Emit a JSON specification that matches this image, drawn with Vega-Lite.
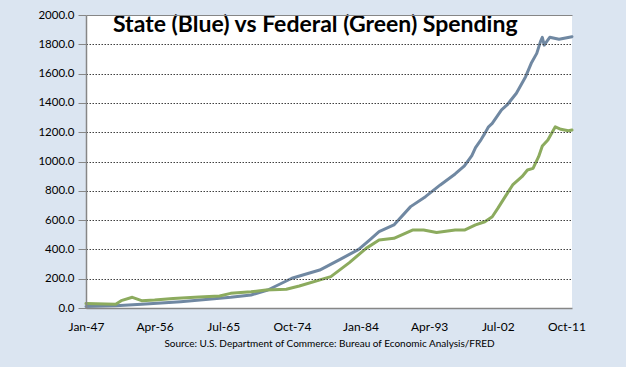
{
  "$schema": "https://vega.github.io/schema/vega-lite/v6.json",
  "width": 486,
  "height": 293,
  "autosize": "none",
  "padding": {"left": 86, "top": 15, "right": 54, "bottom": 59},
  "background": "#DBE5F1",
  "view": {"fill": "white", "stroke": null},
  "title": {
    "text": "State (Blue) vs Federal (Green) Spending",
    "frame": "group",
    "anchor": "start",
    "orient": "top",
    "dx": 27,
    "offset": -46,
    "baseline": "alphabetic",
    "font": "Lato",
    "fontSize": 23,
    "fontWeight": "bold",
    "color": "#000000"
  },
  "data": {
    "values": [
      {"d": "1947-01-01", "s": "State", "v": 10},
      {"d": "1951-01-01", "s": "State", "v": 16},
      {"d": "1954-07-01", "s": "State", "v": 25},
      {"d": "1959-10-01", "s": "State", "v": 43},
      {"d": "1965-01-01", "s": "State", "v": 66},
      {"d": "1966-07-01", "s": "State", "v": 73},
      {"d": "1969-04-01", "s": "State", "v": 89},
      {"d": "1971-07-01", "s": "State", "v": 123},
      {"d": "1974-10-01", "s": "State", "v": 203},
      {"d": "1978-07-01", "s": "State", "v": 259},
      {"d": "1981-04-01", "s": "State", "v": 332},
      {"d": "1983-10-01", "s": "State", "v": 400},
      {"d": "1985-04-01", "s": "State", "v": 465},
      {"d": "1986-07-01", "s": "State", "v": 521},
      {"d": "1988-07-01", "s": "State", "v": 567},
      {"d": "1990-10-01", "s": "State", "v": 692},
      {"d": "1992-10-01", "s": "State", "v": 760},
      {"d": "1994-10-01", "s": "State", "v": 840},
      {"d": "1996-10-01", "s": "State", "v": 915},
      {"d": "1998-01-01", "s": "State", "v": 970},
      {"d": "1999-01-01", "s": "State", "v": 1040},
      {"d": "1999-07-01", "s": "State", "v": 1095},
      {"d": "2000-04-01", "s": "State", "v": 1150},
      {"d": "2000-10-01", "s": "State", "v": 1192},
      {"d": "2001-04-01", "s": "State", "v": 1237},
      {"d": "2001-10-01", "s": "State", "v": 1260},
      {"d": "2003-01-01", "s": "State", "v": 1352},
      {"d": "2003-10-01", "s": "State", "v": 1386},
      {"d": "2005-01-01", "s": "State", "v": 1466},
      {"d": "2006-04-01", "s": "State", "v": 1579},
      {"d": "2007-01-01", "s": "State", "v": 1670},
      {"d": "2007-10-01", "s": "State", "v": 1738},
      {"d": "2008-04-01", "s": "State", "v": 1818},
      {"d": "2008-07-01", "s": "State", "v": 1848},
      {"d": "2008-10-01", "s": "State", "v": 1795},
      {"d": "2009-07-01", "s": "State", "v": 1848},
      {"d": "2010-10-01", "s": "State", "v": 1834},
      {"d": "2012-07-01", "s": "State", "v": 1852},
      {"d": "1947-01-01", "s": "Federal", "v": 30},
      {"d": "1951-01-01", "s": "Federal", "v": 25},
      {"d": "1951-10-01", "s": "Federal", "v": 50},
      {"d": "1953-04-01", "s": "Federal", "v": 73},
      {"d": "1954-07-01", "s": "Federal", "v": 50},
      {"d": "1956-04-01", "s": "Federal", "v": 55},
      {"d": "1958-10-01", "s": "Federal", "v": 65},
      {"d": "1962-04-01", "s": "Federal", "v": 75},
      {"d": "1965-01-01", "s": "Federal", "v": 82},
      {"d": "1966-07-01", "s": "Federal", "v": 100},
      {"d": "1969-04-01", "s": "Federal", "v": 111},
      {"d": "1971-04-01", "s": "Federal", "v": 123},
      {"d": "1974-01-01", "s": "Federal", "v": 128},
      {"d": "1975-10-01", "s": "Federal", "v": 150},
      {"d": "1980-01-01", "s": "Federal", "v": 214},
      {"d": "1982-07-01", "s": "Federal", "v": 310},
      {"d": "1984-10-01", "s": "Federal", "v": 407},
      {"d": "1986-07-01", "s": "Federal", "v": 464},
      {"d": "1988-07-01", "s": "Federal", "v": 476},
      {"d": "1991-01-01", "s": "Federal", "v": 532},
      {"d": "1992-07-01", "s": "Federal", "v": 532},
      {"d": "1994-04-01", "s": "Federal", "v": 516},
      {"d": "1996-10-01", "s": "Federal", "v": 532},
      {"d": "1998-01-01", "s": "Federal", "v": 532},
      {"d": "1999-07-01", "s": "Federal", "v": 567},
      {"d": "2000-10-01", "s": "Federal", "v": 589},
      {"d": "2001-10-01", "s": "Federal", "v": 623},
      {"d": "2002-07-01", "s": "Federal", "v": 680},
      {"d": "2003-07-01", "s": "Federal", "v": 760},
      {"d": "2004-07-01", "s": "Federal", "v": 840},
      {"d": "2005-10-01", "s": "Federal", "v": 896},
      {"d": "2006-07-01", "s": "Federal", "v": 942},
      {"d": "2007-04-01", "s": "Federal", "v": 953},
      {"d": "2008-01-01", "s": "Federal", "v": 1033},
      {"d": "2008-07-01", "s": "Federal", "v": 1106},
      {"d": "2009-04-01", "s": "Federal", "v": 1147},
      {"d": "2010-04-01", "s": "Federal", "v": 1237},
      {"d": "2011-01-01", "s": "Federal", "v": 1220},
      {"d": "2012-01-01", "s": "Federal", "v": 1210},
      {"d": "2012-07-01", "s": "Federal", "v": 1215}
    ]
  },
  "mark": {"type": "line", "strokeWidth": 3, "strokeJoin": "round", "strokeCap": "round"},
  "encoding": {
    "x": {
      "field": "d",
      "type": "temporal",
      "scale": {
        "type": "utc",
        "domain": [
          {"year": 1947, "month": 1, "date": 1, "utc": true},
          {"year": 2012, "month": 7, "date": 1, "utc": true}
        ]
      },
      "axis": {
        "title": "Source: U.S. Department of Commerce: Bureau of Economic Analysis/FRED",
        "titleFont": "Lato",
        "titleFontSize": 10,
        "titleFontWeight": "normal",
        "titleColor": "#000000",
        "titlePadding": 6,
        "values": [
          {"year": 1947, "month": 1, "date": 1, "utc": true},
          {"year": 1956, "month": 4, "date": 1, "utc": true},
          {"year": 1965, "month": 7, "date": 1, "utc": true},
          {"year": 1974, "month": 10, "date": 1, "utc": true},
          {"year": 1984, "month": 1, "date": 1, "utc": true},
          {"year": 1993, "month": 4, "date": 1, "utc": true},
          {"year": 2002, "month": 7, "date": 1, "utc": true},
          {"year": 2011, "month": 10, "date": 1, "utc": true}
        ],
        "labelExpr": "utcFormat(datum.value, '%b-%y')",
        "labelFont": "Lato",
        "labelFontSize": 12,
        "labelColor": "#000000",
        "labelPadding": 13,
        "labelFlush": false,
        "labelOverlap": false,
        "ticks": false,
        "grid": false,
        "domainColor": "#868686",
        "domainWidth": 1.5,
        "zindex": 1
      }
    },
    "y": {
      "field": "v",
      "type": "quantitative",
      "scale": {"domain": [0, 2000], "nice": false},
      "axis": {
        "title": null,
        "values": [0, 200, 400, 600, 800, 1000, 1200, 1400, 1600, 1800, 2000],
        "format": ".1f",
        "labelFont": "Lato",
        "labelFontSize": 11.5,
        "labelColor": "#000000",
        "labelPadding": 4,
        "labelOverlap": false,
        "labelFlush": false,
        "tickSize": 8,
        "tickColor": "#868686",
        "domainColor": "#868686",
        "domainWidth": 1.5,
        "grid": true,
        "gridOpacity": 1,
        "gridColor": {"condition": {"test": "datum.value == 2000", "value": "#868686"}, "value": "#404040"},
        "gridDash": {"condition": {"test": "datum.value == 2000", "value": []}, "value": [1.5, 1.5]},
        "gridWidth": 1.2,
        "zindex": 1
      }
    },
    "color": {
      "field": "s",
      "type": "nominal",
      "scale": {"domain": ["State", "Federal"], "range": ["#7088A2", "#8CAB5E"]},
      "legend": null
    }
  }
}
